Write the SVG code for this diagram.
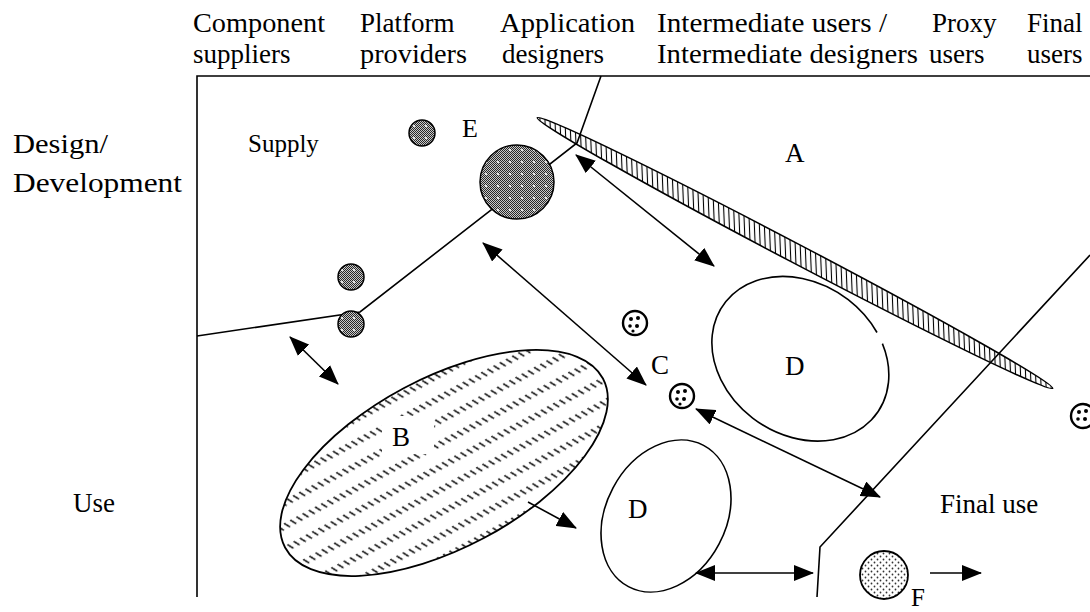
<svg xmlns="http://www.w3.org/2000/svg" width="1090" height="612" viewBox="0 0 1090 612">
<style>
text{font-family:"Liberation Serif","Times New Roman",serif;font-size:27px;fill:#000}
.ln{fill:none;stroke:#000;stroke-width:1.6}
.arr{fill:none;stroke:#000;stroke-width:1.6;marker-end:url(#ah)}
.arr2{fill:none;stroke:#000;stroke-width:1.6;marker-start:url(#ah);marker-end:url(#ah)}
.dk{stroke:#000;stroke-width:1.5}
.cd{fill:#fff;stroke:#000;stroke-width:2.4}
.dot{fill:#000}
</style>
<defs>
<marker id="ah" viewBox="0 0 20 16" refX="19" refY="8" markerWidth="20" markerHeight="16" markerUnits="userSpaceOnUse" orient="auto-start-reverse"><path d="M0,0 L20,8 L0,16 z" fill="#000"/></marker>
<pattern id="chk" width="2" height="2" patternUnits="userSpaceOnUse"><rect width="2" height="2" fill="#c8c8c8"/><rect width="1" height="1" fill="#282828"/><rect x="1" y="1" width="1" height="1" fill="#282828"/></pattern>
<pattern id="spk" width="12" height="12" patternUnits="userSpaceOnUse"><circle cx="6" cy="6" r="1.1" fill="#fff"/></pattern>
<pattern id="fdot" width="6" height="6" patternUnits="userSpaceOnUse"><rect width="6" height="6" fill="#fff"/><circle cx="1.5" cy="1.5" r="0.9" fill="#333"/><circle cx="4.5" cy="4.5" r="0.9" fill="#333"/></pattern>
<pattern id="hatchA" width="5" height="5" patternUnits="userSpaceOnUse" patternTransform="rotate(-30)"><rect width="5" height="5" fill="#fff"/><line x1="2.5" y1="0" x2="2.5" y2="5" stroke="#000" stroke-width="1.1"/></pattern>
<pattern id="hatchB" x="0" y="6.8" width="7" height="20.4" patternUnits="userSpaceOnUse"><rect width="7" height="20.4" fill="#fff"/><line x1="1.5" y1="6" x2="5" y2="12" stroke="#111" stroke-width="1.6"/></pattern>
</defs>

<g id="headers">
<text x="193" y="32" textLength="132" lengthAdjust="spacingAndGlyphs">Component</text>
<text x="193" y="63">suppliers</text>
<text x="360" y="32">Platform</text>
<text x="360" y="63" textLength="107" lengthAdjust="spacingAndGlyphs">providers</text>
<text x="500" y="32" textLength="135" lengthAdjust="spacingAndGlyphs">Application</text>
<text x="502" y="63">designers</text>
<text x="657" y="32" textLength="230" lengthAdjust="spacingAndGlyphs">Intermediate users /</text>
<text x="657" y="63" textLength="261" lengthAdjust="spacingAndGlyphs">Intermediate designers</text>
<text x="932" y="32">Proxy</text>
<text x="929" y="63">users</text>
<text x="1027" y="32">Final</text>
<text x="1027" y="63">users</text>
<text x="13" y="153" textLength="95" lengthAdjust="spacingAndGlyphs">Design/</text>
<text x="13" y="192" textLength="169" lengthAdjust="spacingAndGlyphs">Development</text>
<text x="73" y="512">Use</text>
</g>

<g id="frame">
<polyline class="ln" points="197,597 197,76 1090,76"/>
</g>

<g id="regionD1">
<path class="ln" d="M882.4,343.6 A94,76 35 1 1 877,332.5"/>
<text x="785" y="375">D</text>
</g>

<g id="regionA">
<ellipse cx="795" cy="253" rx="291" ry="9.5" transform="rotate(27.7 795 253)" fill="url(#hatchA)" stroke="#000" stroke-width="1.6"/>
<text x="785" y="162">A</text>
</g>

<g id="regionB">
<ellipse cx="444" cy="463" rx="180" ry="85" transform="rotate(-28 444 463)" fill="url(#hatchB)" stroke="#000" stroke-width="1.8"/>
<rect x="382" y="416" width="52" height="38" fill="#fff"/>
<text x="392" y="446">B</text>
</g>

<g id="regionD2">
<ellipse class="ln" cx="666" cy="516" rx="80" ry="60" transform="rotate(-62 666 516)"/>
<text x="628" y="518">D</text>
</g>

<g id="boundaries">
<polyline class="ln" points="601,76 577,143 360,312 197,336"/>
<polyline class="ln" points="1090,255 820,547 817,597"/>
</g>

<g id="E">
<circle cx="422" cy="133" r="13" fill="url(#chk)"/>
<circle cx="422" cy="133" r="13" fill="url(#spk)" class="dk"/>
<text x="462" y="137" style="font-size:26px">E</text>
</g>
<g id="bigCircle">
<circle cx="517" cy="182" r="37" fill="url(#chk)"/>
<circle cx="517" cy="182" r="37" fill="url(#spk)" class="dk"/>
</g>
<g id="smallCircle1">
<circle cx="351" cy="277" r="13" fill="url(#chk)"/>
<circle cx="351" cy="277" r="13" fill="url(#spk)" class="dk"/>
</g>
<g id="smallCircle2">
<circle cx="351" cy="324" r="13" fill="url(#chk)"/>
<circle cx="351" cy="324" r="13" fill="url(#spk)" class="dk"/>
</g>

<g id="C">
<circle class="cd" cx="635" cy="323" r="12"/>
<circle class="dot" cx="631" cy="319" r="2"/><circle class="dot" cx="638" cy="318" r="2"/><circle class="dot" cx="630" cy="326" r="1.8"/><circle class="dot" cx="637" cy="326" r="2"/><circle class="dot" cx="633" cy="331" r="1.6"/>
<circle class="cd" cx="682" cy="396" r="12"/>
<circle class="dot" cx="678" cy="392" r="2"/><circle class="dot" cx="685" cy="391" r="2"/><circle class="dot" cx="677" cy="399" r="1.8"/><circle class="dot" cx="684" cy="399" r="2"/><circle class="dot" cx="680" cy="404" r="1.6"/>
<text x="651" y="374">C</text>
</g>
<g id="Cright">
<circle class="cd" cx="1083" cy="416" r="12"/>
<circle class="dot" cx="1079" cy="412" r="2"/><circle class="dot" cx="1086" cy="411" r="2"/><circle class="dot" cx="1078" cy="419" r="1.8"/><circle class="dot" cx="1085" cy="419" r="2"/>
</g>

<g id="F">
<circle cx="884" cy="575" r="24" fill="url(#fdot)" stroke="#000" stroke-width="1.8"/>
<text x="911" y="606" style="font-size:25px">F</text>
</g>

<g id="labels">
<text x="248" y="152" style="font-size:25px">Supply</text>
<text x="940" y="513">Final use</text>
</g>

<g id="connectors">
<line class="arr2" x1="576" y1="155" x2="714" y2="266"/>
<line class="arr2" x1="483" y1="243" x2="646" y2="385"/>
<line class="arr2" x1="290" y1="337" x2="338" y2="384"/>
<line class="arr" x1="528" y1="502" x2="576" y2="528"/>
<line class="arr2" x1="696" y1="409" x2="880" y2="497"/>
<line class="arr2" x1="696" y1="573" x2="813" y2="573"/>
<line class="arr" x1="930" y1="573" x2="981" y2="573"/>
</g>
</svg>
